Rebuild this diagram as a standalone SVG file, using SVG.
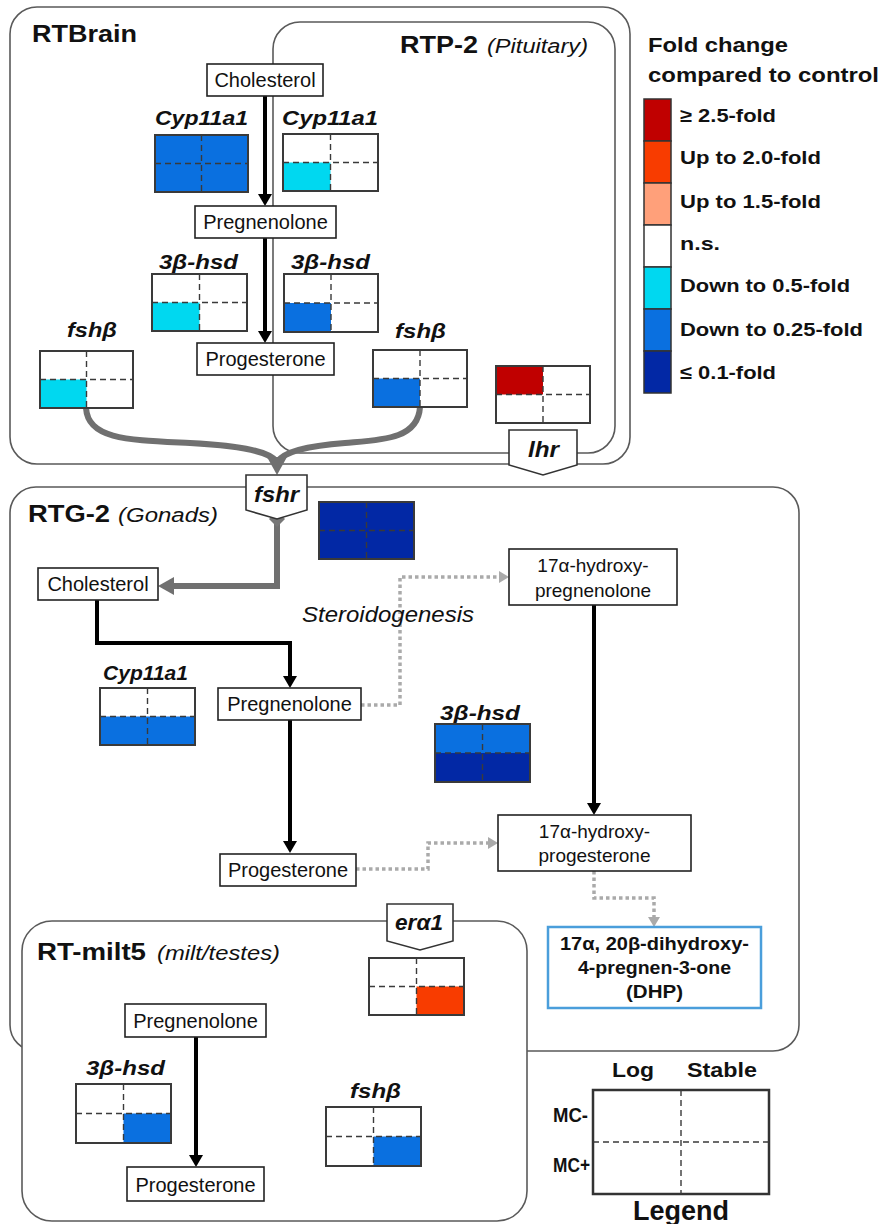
<svg xmlns="http://www.w3.org/2000/svg" width="883" height="1224" viewBox="0 0 883 1224">
<style>
.reg{fill:none;stroke:#5a5a5a;stroke-width:1.6}
.regw{fill:#fff;stroke:#5a5a5a;stroke-width:1.6}
.node{fill:#fff;stroke:#222;stroke-width:1.6}
.nt{font-family:"Liberation Sans",Arial,sans-serif;font-size:20px;fill:#111;text-anchor:middle}
.nt2{font-family:"Liberation Sans",Arial,sans-serif;font-size:19px;fill:#111;text-anchor:middle}
.title{font-family:"Liberation Sans",Arial,sans-serif;font-size:24px;font-weight:bold;fill:#111}
.sub{font-family:"Liberation Sans",Arial,sans-serif;font-size:20px;font-style:italic;fill:#111}
.gene{font-family:"Liberation Sans",Arial,sans-serif;font-size:20px;font-weight:bold;font-style:italic;fill:#111;text-anchor:middle}
.leg{font-family:"Liberation Sans",Arial,sans-serif;font-size:19px;font-weight:bold;fill:#111}
.grid{fill:none;stroke:#3a3a3a;stroke-width:2}
.div{stroke:#3a3a3a;stroke-width:1.4;stroke-dasharray:6 4}
.blk{fill:none;stroke:#000;stroke-width:4}
.dot{fill:none;stroke:#aaa;stroke-width:3.5;stroke-dasharray:3.5 3}
.gry{fill:none;stroke:#707070;stroke-width:6}
.c1{fill:#00d8f0}.c2{fill:#0a70e0}.c3{fill:#0228a5}.r1{fill:#c00000}.r2{fill:#f83c00}.r3{fill:#ffa07a}
.tag{fill:#fff;stroke:#333;stroke-width:1.6}
</style>
<defs>
<marker id="ab" viewBox="0 0 12 14" refX="0" refY="7" markerWidth="12" markerHeight="14" markerUnits="userSpaceOnUse" orient="auto" preserveAspectRatio="none"><path d="M0,0 L12,7 L0,14 z" fill="#000"/></marker>
<marker id="ag" viewBox="0 0 10 12" refX="0" refY="6" markerWidth="10" markerHeight="12" markerUnits="userSpaceOnUse" orient="auto" preserveAspectRatio="none"><path d="M0,0 L10,6 L0,12 z" fill="#aaa"/></marker>
</defs>

<!-- regions -->
<g id="RTBrain">
<rect class="regw" x="10" y="7" width="620" height="457" rx="27"/>
<text class="title" x="32" y="42" textLength="105" lengthAdjust="spacingAndGlyphs">RTBrain</text>
</g>
<g id="RTP2">
<rect class="reg" x="273" y="22" width="342" height="431" rx="27"/>
<text class="title" x="400" y="53" textLength="78" lengthAdjust="spacingAndGlyphs">RTP-2</text>
<text class="sub" x="487" y="53" textLength="101" lengthAdjust="spacingAndGlyphs">(Pituitary)</text>
</g>
<g id="RTG2">
<rect class="regw" x="10" y="487" width="789" height="564" rx="26"/>
<text class="title" x="28" y="522" textLength="82" lengthAdjust="spacingAndGlyphs">RTG-2</text>
<text class="sub" x="118" y="522" textLength="100" lengthAdjust="spacingAndGlyphs">(Gonads)</text>
</g>
<g id="RTmilt5">
<rect class="regw" x="22" y="921" width="505" height="300" rx="30"/>
<text class="title" x="37" y="960" textLength="109" lengthAdjust="spacingAndGlyphs">RT-milt5</text>
<text class="sub" x="157" y="960" textLength="123" lengthAdjust="spacingAndGlyphs">(milt/testes)</text>
</g>

<!-- connectors -->
<g id="connectors">
<path class="blk" d="M265,96 V194" marker-end="url(#ab)"/>
<path class="blk" d="M265,238 V331" marker-end="url(#ab)"/>
<path class="blk" d="M97,600 V643 H290 V676" marker-end="url(#ab)"/>
<path class="blk" d="M290,720 V841" marker-end="url(#ab)"/>
<path class="blk" d="M594,605 V803" marker-end="url(#ab)"/>
<path class="blk" d="M196,1037 V1155" marker-end="url(#ab)"/>
<path class="dot" d="M361,705 H400 V577 H499" marker-end="url(#ag)"/>
<path class="dot" d="M356,869 H428 V843 H488" marker-end="url(#ag)"/>
<path class="dot" d="M594,871 V898 H654 V917" marker-end="url(#ag)"/>
<path class="gry" d="M86,408 C88,440 130,440 190,443 C245,446 270,452 277,462"/>
<path class="gry" d="M420,407 C418,440 380,440 345,443 C305,446 284,452 277,462"/>
<polygon points="267,457 287,457 277,475" fill="#707070"/>
<path class="gry" d="M277,522 V586 H172"/>
<polygon points="158,586 174,577 174,595" fill="#707070"/>
<polygon points="277,511 285,519 277,527 269,519" fill="#777"/>
<text class="sub" x="302" y="622" style="font-size:22px" textLength="172" lengthAdjust="spacingAndGlyphs">Steroidogenesis</text>
</g>

<!-- nodes -->
<g id="cholesterol1"><rect class="node" x="207" y="64" width="116" height="32"/><text class="nt" x="265" y="87">Cholesterol</text></g>
<g id="pregnenolone1"><rect class="node" x="195" y="206" width="141" height="32"/><text class="nt" x="265.5" y="229">Pregnenolone</text></g>
<g id="progesterone1"><rect class="node" x="197" y="343" width="137" height="32"/><text class="nt" x="265.5" y="366">Progesterone</text></g>
<g id="cholesterol2"><rect class="node" x="38" y="568" width="120" height="32"/><text class="nt" x="98" y="591">Cholesterol</text></g>
<g id="pregnenolone2"><rect class="node" x="218" y="688" width="143" height="32"/><text class="nt" x="289.5" y="711">Pregnenolone</text></g>
<g id="progesterone2"><rect class="node" x="220" y="854" width="136" height="32"/><text class="nt" x="288" y="877">Progesterone</text></g>
<g id="hydroxypreg"><rect class="node" x="509" y="549" width="168" height="56"/><text class="nt2" x="593" y="572">17α-hydroxy-</text><text class="nt2" x="593" y="597">pregnenolone</text></g>
<g id="hydroxyprog"><rect class="node" x="498" y="815" width="193" height="56"/><text class="nt2" x="594.5" y="838">17α-hydroxy-</text><text class="nt2" x="594.5" y="862">progesterone</text></g>
<g id="DHP"><rect x="548" y="927" width="213" height="81" fill="#fff" stroke="#4a9edb" stroke-width="2.5"/>
<text class="nt2" x="654.5" y="950" font-weight="bold" textLength="189" lengthAdjust="spacingAndGlyphs">17α, 20β-dihydroxy-</text>
<text class="nt2" x="654.5" y="974" font-weight="bold" textLength="153" lengthAdjust="spacingAndGlyphs">4-pregnen-3-one</text>
<text class="nt2" x="654.5" y="998" font-weight="bold" textLength="57" lengthAdjust="spacingAndGlyphs">(DHP)</text></g>
<g id="pregnenolone3"><rect class="node" x="125" y="1004" width="141" height="33"/><text class="nt" x="195.5" y="1028">Pregnenolone</text></g>
<g id="progesterone3"><rect class="node" x="127" y="1167" width="137" height="34"/><text class="nt" x="195.5" y="1192">Progesterone</text></g>

<!-- gene grids -->
<g id="brain-cyp11a1">
<text class="gene" x="201.5" y="125" textLength="93" lengthAdjust="spacingAndGlyphs">Cyp11a1</text>
<rect class="c2" x="155" y="135" width="93" height="57"/>
<rect class="grid" x="155" y="135" width="93" height="57"/>
<path class="div" d="M201.5,135 V192 M155,163.5 H248"/>
</g>
<g id="rtp-cyp11a1">
<text class="gene" x="330" y="125" textLength="96" lengthAdjust="spacingAndGlyphs">Cyp11a1</text>
<rect fill="#fff" x="283" y="134" width="95" height="57"/>
<rect class="c1" x="283" y="162.5" width="47.5" height="28.5"/>
<rect class="grid" x="283" y="134" width="95" height="57"/>
<path class="div" d="M330.5,134 V191 M283,162.5 H378"/>
</g>
<g id="brain-3bhsd">
<text class="gene" x="198.5" y="269" textLength="79" lengthAdjust="spacingAndGlyphs">3β-hsd</text>
<rect fill="#fff" x="152" y="274" width="95" height="57"/>
<rect class="c1" x="152" y="302.5" width="47.5" height="28.5"/>
<rect class="grid" x="152" y="274" width="95" height="57"/>
<path class="div" d="M199.5,274 V331 M152,302.5 H247"/>
</g>
<g id="rtp-3bhsd">
<text class="gene" x="330.5" y="269" textLength="79" lengthAdjust="spacingAndGlyphs">3β-hsd</text>
<rect fill="#fff" x="284" y="274" width="94" height="58"/>
<rect class="c2" x="284" y="303" width="47" height="29"/>
<rect class="grid" x="284" y="274" width="94" height="58"/>
<path class="div" d="M331,274 V332 M284,303 H378"/>
</g>
<g id="brain-fshb">
<text class="gene" x="92" y="337" textLength="50" lengthAdjust="spacingAndGlyphs">fshβ</text>
<rect fill="#fff" x="40" y="351" width="93" height="57"/>
<rect class="c1" x="40" y="379.5" width="46.5" height="28.5"/>
<rect class="grid" x="40" y="351" width="93" height="57"/>
<path class="div" d="M86.5,351 V408 M40,379.5 H133"/>
</g>
<g id="rtp-fshb">
<text class="gene" x="420.5" y="338" textLength="51" lengthAdjust="spacingAndGlyphs">fshβ</text>
<rect fill="#fff" x="373" y="350" width="94" height="57"/>
<rect class="c2" x="373" y="378.5" width="47" height="28.5"/>
<rect class="grid" x="373" y="350" width="94" height="57"/>
<path class="div" d="M420,350 V407 M373,378.5 H467"/>
</g>
<g id="lhr">
<rect fill="#fff" x="496" y="366" width="94" height="57"/>
<rect class="r1" x="496" y="366" width="47" height="28.5"/>
<rect class="grid" x="496" y="366" width="94" height="57"/>
<path class="div" d="M543,366 V423 M496,394.5 H590"/>
<polygon class="tag" points="509,430 577,430 577,465 543,475 509,465"/>
<text class="gene" x="543.5" y="457" style="font-size:22px" textLength="31" lengthAdjust="spacingAndGlyphs">lhr</text>
</g>
<g id="fshr">
<polygon class="tag" points="246,475 307,475 307,510 277,519 246,510"/>
<text class="gene" x="276.5" y="502" style="font-size:22px" textLength="45" lengthAdjust="spacingAndGlyphs">fshr</text>
<rect class="c3" x="319" y="502" width="95" height="57"/>
<rect class="grid" x="319" y="502" width="95" height="57"/>
<path class="div" d="M366.5,502 V559 M319,530.5 H414"/>
</g>
<g id="rtg-cyp11a1">
<text class="gene" x="145.5" y="680" textLength="85" lengthAdjust="spacingAndGlyphs">Cyp11a1</text>
<rect fill="#fff" x="100" y="688" width="95" height="57"/>
<rect class="c2" x="100" y="716.5" width="95" height="28.5"/>
<rect class="grid" x="100" y="688" width="95" height="57"/>
<path class="div" d="M147.5,688 V745 M100,716.5 H195"/>
</g>
<g id="rtg-3bhsd">
<text class="gene" x="480" y="720" textLength="80" lengthAdjust="spacingAndGlyphs">3β-hsd</text>
<rect class="c2" x="435" y="724" width="95" height="29"/>
<rect class="c3" x="435" y="753" width="95" height="29"/>
<rect class="grid" x="435" y="724" width="95" height="58"/>
<path class="div" d="M482.5,724 V782 M435,753 H530"/>
</g>
<g id="era1">
<polygon class="tag" points="387,904 453,904 453,941 420,950 387,941"/>
<text class="gene" x="419" y="930" style="font-size:22px" textLength="48" lengthAdjust="spacingAndGlyphs">erα1</text>
<rect fill="#fff" x="369" y="958" width="95" height="57"/>
<rect class="r2" x="416.5" y="986.5" width="47.5" height="28.5"/>
<rect class="grid" x="369" y="958" width="95" height="57"/>
<path class="div" d="M416.5,958 V1015 M369,986.5 H464"/>
</g>
<g id="milt-3bhsd">
<text class="gene" x="125.5" y="1075" textLength="79" lengthAdjust="spacingAndGlyphs">3β-hsd</text>
<rect fill="#fff" x="76" y="1084" width="95" height="59"/>
<rect class="c2" x="123.5" y="1113.5" width="47.5" height="29.5"/>
<rect class="grid" x="76" y="1084" width="95" height="59"/>
<path class="div" d="M123.5,1084 V1143 M76,1113.5 H171"/>
</g>
<g id="milt-fshb">
<text class="gene" x="375.5" y="1098" textLength="51" lengthAdjust="spacingAndGlyphs">fshβ</text>
<rect fill="#fff" x="326" y="1107" width="95" height="59"/>
<rect class="c2" x="373.5" y="1136.5" width="47.5" height="29.5"/>
<rect class="grid" x="326" y="1107" width="95" height="59"/>
<path class="div" d="M373.5,1107 V1166 M326,1136.5 H421"/>
</g>

<!-- fold change legend -->
<g id="fold-legend">
<text class="leg" x="648" y="52" style="font-size:20px" textLength="140" lengthAdjust="spacingAndGlyphs">Fold change</text>
<text class="leg" x="648" y="82" style="font-size:20px" textLength="231" lengthAdjust="spacingAndGlyphs">compared to control</text>
<g stroke="#333" stroke-width="1.5">
<rect class="r1" x="644" y="99" width="27" height="42"/>
<rect class="r2" x="644" y="141" width="27" height="42"/>
<rect class="r3" x="644" y="183" width="27" height="42"/>
<rect fill="#fff" x="644" y="225" width="27" height="42"/>
<rect class="c1" x="644" y="267" width="27" height="42"/>
<rect class="c2" x="644" y="309" width="27" height="42"/>
<rect class="c3" x="644" y="351" width="27" height="42"/>
</g>
<text class="leg" x="680" y="122" textLength="96" lengthAdjust="spacingAndGlyphs">≥ 2.5-fold</text>
<text class="leg" x="680" y="164" textLength="141" lengthAdjust="spacingAndGlyphs">Up to 2.0-fold</text>
<text class="leg" x="680" y="208" textLength="141" lengthAdjust="spacingAndGlyphs">Up to 1.5-fold</text>
<text class="leg" x="680" y="250" textLength="40" lengthAdjust="spacingAndGlyphs">n.s.</text>
<text class="leg" x="680" y="292" textLength="170" lengthAdjust="spacingAndGlyphs">Down to 0.5-fold</text>
<text class="leg" x="680" y="336" textLength="183" lengthAdjust="spacingAndGlyphs">Down to 0.25-fold</text>
<text class="leg" x="680" y="379" textLength="96" lengthAdjust="spacingAndGlyphs">≤ 0.1-fold</text>
</g>

<!-- layout legend -->
<g id="layout-legend">
<text class="leg" x="633" y="1077" style="font-size:20px;text-anchor:middle" textLength="42" lengthAdjust="spacingAndGlyphs">Log</text>
<text class="leg" x="722" y="1077" style="font-size:20px;text-anchor:middle" textLength="70" lengthAdjust="spacingAndGlyphs">Stable</text>
<text class="leg" x="588" y="1122" style="font-size:20px;text-anchor:end" textLength="35" lengthAdjust="spacingAndGlyphs">MC-</text>
<text class="leg" x="590" y="1172" style="font-size:20px;text-anchor:end" textLength="37" lengthAdjust="spacingAndGlyphs">MC+</text>
<rect x="593" y="1090" width="176" height="104" fill="#fff" stroke="#333" stroke-width="2.5"/>
<path class="div" d="M681,1090 V1194 M593,1142 H769" stroke="#555"/>
<text class="leg" x="681" y="1220" style="font-size:27px;text-anchor:middle" textLength="96" lengthAdjust="spacingAndGlyphs">Legend</text>
</g>
</svg>
